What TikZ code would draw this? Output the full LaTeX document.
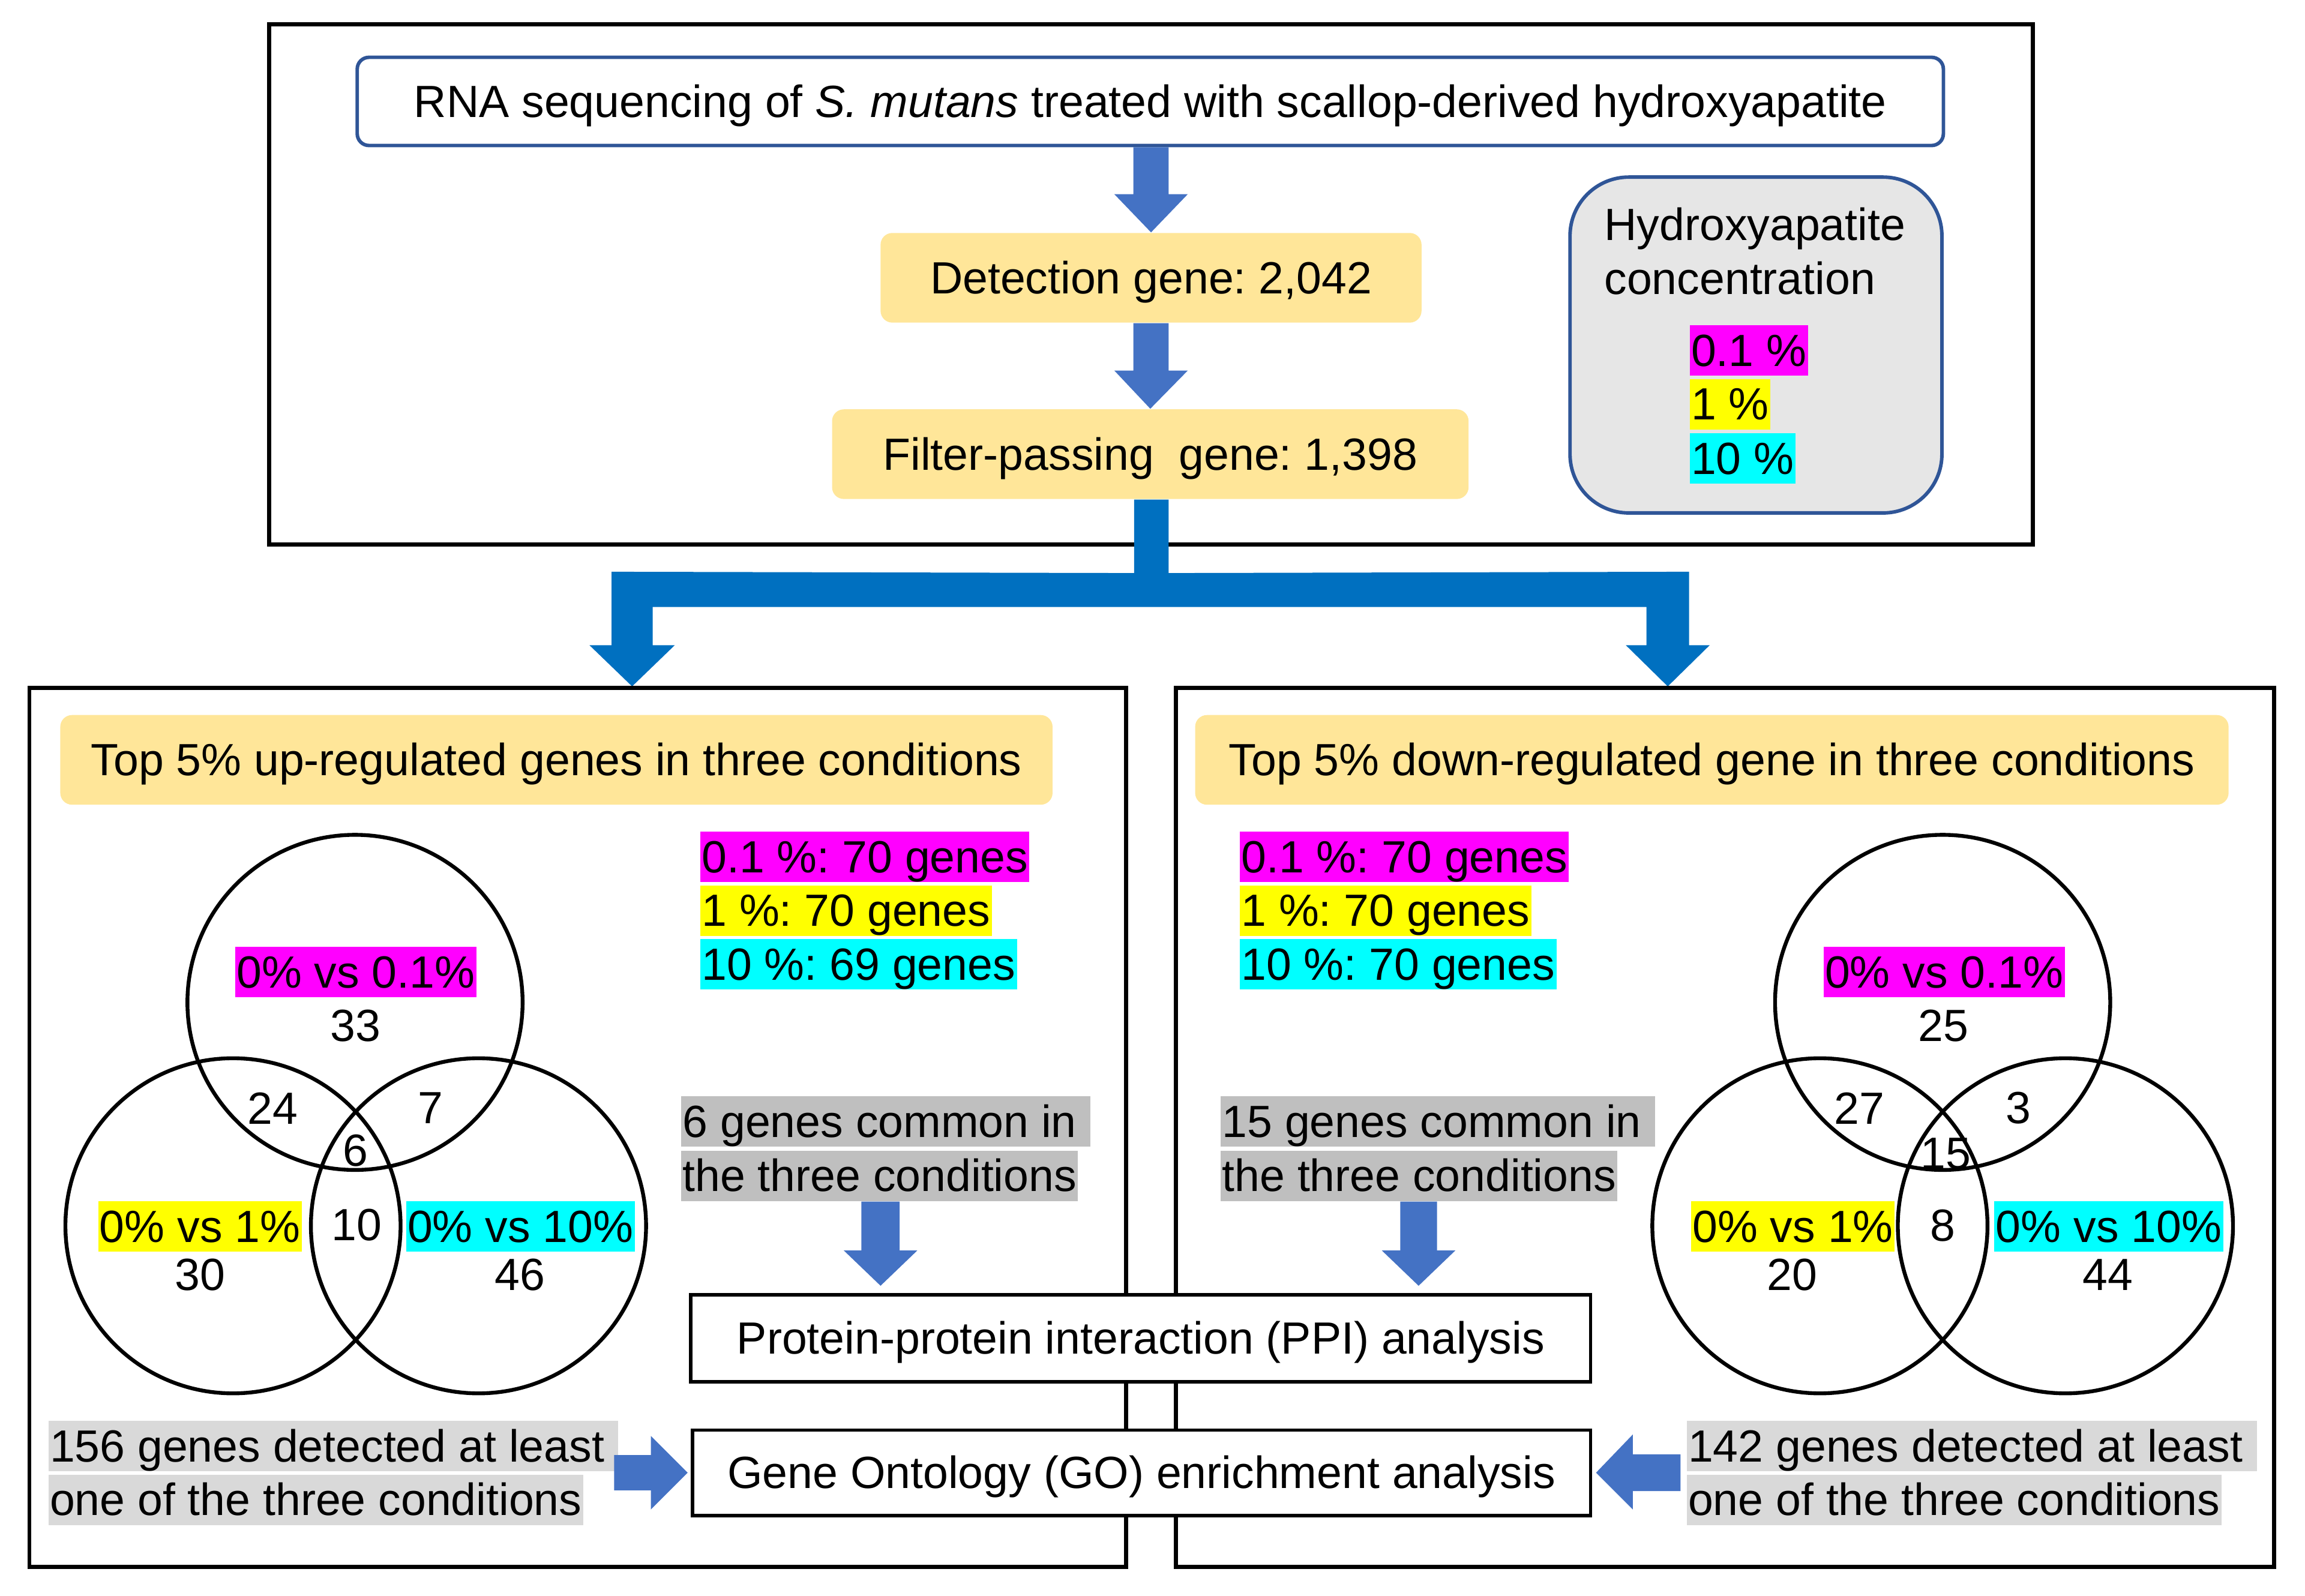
\documentclass[tikz,border=0pt]{standalone}
\usepackage{fontspec}
\setmainfont{Liberation Sans}
\usetikzlibrary{calc}
\definecolor{hdr}{HTML}{FFE699}
\definecolor{bdark}{HTML}{2F5597}
\definecolor{lgray}{HTML}{E6E6E6}
\definecolor{sblue}{HTML}{4472C4}
\definecolor{bblue}{HTML}{0070C0}
\definecolor{mag}{HTML}{FF00FF}
\definecolor{yel}{HTML}{FFFF00}
\definecolor{cya}{HTML}{00FFFF}
\definecolor{gdark}{HTML}{BFBFBF}
\definecolor{glight}{HTML}{D9D9D9}
\begin{document}
\begin{tikzpicture}[x=0.5pt,y=-0.5pt,
  font=\fontsize{15.35}{18.4}\selectfont\frenchspacing,
  tb/.style={text height=13.9pt, text depth=3.25pt},
  hl/.style={tb, inner xsep=0.5pt, inner ysep=0pt},
  mg/.style={hl, fill=mag},
  yl/.style={hl, fill=yel},
  cy/.style={hl, fill=cya},
  gd/.style={hl, fill=gdark, anchor=west},
  gl/.style={hl, fill=glight, anchor=west},
  frame/.style={draw=black, line width=1.4pt},
  hbox/.style={tb, fill=hdr, rounded corners=4pt, inner sep=0pt},
  wbox/.style={tb, draw=black, fill=white, line width=1.2pt, inner sep=0pt},
  venn/.style={draw=black, line width=1.3pt, circle, minimum size=114pt, inner sep=0pt},
  num/.style={inner sep=0pt},
  sarrow/.style={fill=sblue},
]
\useasboundingbox (0,0) rectangle (1568,1085.5);

% ---------- top frame ----------
\draw[frame] (183,16.5) rectangle (1383,370.5);
\node[tb, draw=bdark, line width=1.2pt, rounded corners=4pt, minimum width=539.5pt, minimum height=30pt, inner sep=0pt] (rna) at (782.5,69)
  {RNA sequencing of \textit{S. mutans} treated with scallop-derived hydroxyapatite};
\node[hbox, minimum width=184pt, minimum height=30.5pt] (det) at (783,189) {Detection gene: 2,042};
\node[hbox, minimum width=216.5pt, minimum height=30.5pt] (filt) at (782.5,309) {Filter-passing\ \ gene: 1,398};

% legend box
\node[draw=bdark, fill=lgray, line width=1.2pt, rounded corners=20pt, minimum width=126.5pt, minimum height=114.25pt, inner sep=0pt] (leg) at (1194.5,234.75) {};
\node[num, tb, anchor=west] (legt1) at (1091,153) {Hydroxyapatite};
\node[num, tb, anchor=west] (legt2) at (1091,189.5) {concentration};
\node[mg, anchor=west] (legm) at (1149,238.5) {0.1 \%};
\node[yl, anchor=west] (legy) at (1149,275) {1 \%};
\node[cy, anchor=west] (legc) at (1149,312) {10 \%};

% small arrows in top frame
\fill[sarrow] ($(rna.south)+(-11.5,0)$) -- ($(det.north)+(-12,-26)$) -- ($(det.north)+(-25,-26)$) -- (det.north)
  -- ($(det.north)+(25,-26)$) -- ($(det.north)+(12,-26)$) -- ($(rna.south)+(12.5,0)$) -- cycle;
\fill[sarrow] ($(det.south)+(-12,0)$) -- ($(filt.north)+(-11.5,-26)$) -- ($(filt.north)+(-24.5,-26)$) -- (filt.north)
  -- ($(filt.north)+(25.5,-26)$) -- ($(filt.north)+(12.5,-26)$) -- ($(det.south)+(12,0)$) -- cycle;

% ---------- big branching connector ----------
\coordinate (tipL) at (430,467);
\coordinate (tipR) at (1134.5,467);
\fill[bblue] ($(filt.south)+(-11,0)$) -- ($(filt.south)+(-11,50)$) -- ($(tipL)+(-14,-78)$) -- ($(tipL)+(-14,-28)$)
  -- ($(tipL)+(-29,-28)$) -- (tipL) -- ($(tipL)+(29,-28)$) -- ($(tipL)+(14,-28)$) -- ($(tipL)+(14,-54)$)
  -- ($(tipR)+(-14.5,-54)$) -- ($(tipR)+(-14.5,-28)$) -- ($(tipR)+(-28.5,-28)$) -- (tipR)
  -- ($(tipR)+(28.5,-28)$) -- ($(tipR)+(14.5,-28)$) -- ($(tipR)+(14.5,-78)$) -- ($(filt.south)+(12.5,50)$)
  -- ($(filt.south)+(12.5,0)$) -- cycle;

% ---------- bottom frames ----------
\draw[frame] (20,468) rectangle (766,1066);
\draw[frame] (800,468) rectangle (1547,1066);

\node[hbox, minimum width=337.5pt, minimum height=30.5pt] (uph) at (378.5,517) {Top 5\% up-regulated genes in three conditions};
\node[hbox, minimum width=351.5pt, minimum height=30.5pt] (dnh) at (1164.5,517) {Top 5\% down-regulated gene in three conditions};

% left lists
\node[mg, anchor=west] (ul1) at (476,583) {0.1 \%: 70 genes};
\node[yl, anchor=west] (ul2) at (476,619.5) {1 \%: 70 genes};
\node[cy, anchor=west] (ul3) at (476,656) {10 \%: 69 genes};
% right lists
\node[mg, anchor=west] (dl1) at (843,583) {0.1 \%: 70 genes};
\node[yl, anchor=west] (dl2) at (843,619.5) {1 \%: 70 genes};
\node[cy, anchor=west] (dl3) at (843,656) {10 \%: 70 genes};

% left Venn
\node[venn] (uA) at (241.5,682) {};
\node[venn] (uB) at (158.5,834) {};
\node[venn] (uC) at (325.5,834) {};
\node[mg] (uAl) at (242,661.5) {0\% vs 0.1\%};
\node[num] at (242,698) {33};
\node[num] at (185.5,754) {24};
\node[num] at (293,754) {7};
\node[num] at (241.8,783) {6};
\node[yl] (uBl) at (136,834.5) {0\% vs 1\%};
\node[num] at (136,867.5) {30};
\node[num] at (242.5,833.5) {10};
\node[cy] (uCl) at (354,834.5) {0\% vs 10\%};
\node[num] at (353.6,867.5) {46};

% right Venn
\node[venn] (dA) at (1321.5,682) {};
\node[venn] (dB) at (1238,834) {};
\node[venn] (dC) at (1405,834) {};
\node[mg] (dAl) at (1322.5,661.5) {0\% vs 0.1\%};
\node[num] at (1322,698) {25};
\node[num] at (1265,754) {27};
\node[num] at (1373,754) {3};
\node[num] at (1323.5,785) {15};
\node[yl] (dBl) at (1219.6,834.5) {0\% vs 1\%};
\node[num] at (1219,867.5) {20};
\node[num] at (1321.6,834) {8};
\node[cy] (dCl) at (1434.5,834.5) {0\% vs 10\%};
\node[num] at (1433.7,867.5) {44};

% common genes notes
\node[gd] (uc1) at (463,763) {6 genes common in\ \mbox{}};
\node[gd] (uc2) at (463,800) {the three conditions};
\node[gd] (dc1) at (830,763) {15 genes common in\ \mbox{}};
\node[gd] (dc2) at (830,800) {the three conditions};

% analysis boxes
\node[wbox, minimum width=306pt, minimum height=29.5pt] (ppi) at (776,910.5) {Protein-protein interaction (PPI) analysis};
\node[wbox, minimum width=305.5pt, minimum height=29pt] (go) at (776.5,1002) {Gene Ontology (GO) enrichment analysis};

% detected notes
\node[gl] (ud1) at (32.5,984) {156 genes detected at least\ \mbox{}};
\node[gl] (ud2) at (32.5,1020.5) {one of the three conditions};
\node[gl] (dd1) at (1147,984) {142 genes detected at least\ \mbox{}};
\node[gl] (dd2) at (1147,1020.5) {one of the three conditions};

% down arrows to PPI
\coordinate (pL) at ($(ppi.north)+(-177,-5)$);
\coordinate (pR) at ($(ppi.north)+(189,-5)$);
\fill[sarrow] ($(uc2.south -| pL)+(-13,0)$) -- ($(pL)+(-13,-24)$) -- ($(pL)+(-25,-24)$) -- (pL)
  -- ($(pL)+(25,-24)$) -- ($(pL)+(13,-24)$) -- ($(uc2.south -| pL)+(13,0)$) -- cycle;
\fill[sarrow] ($(dc2.south -| pR)+(-12.5,0)$) -- ($(pR)+(-12.5,-24)$) -- ($(pR)+(-25,-24)$) -- (pR)
  -- ($(pR)+(25,-24)$) -- ($(pR)+(12.5,-24)$) -- ($(dc2.south -| pR)+(12.5,0)$) -- cycle;

% horizontal arrows to GO
\coordinate (gL) at ($(go.west)+(-2,0)$);
\coordinate (gR) at ($(go.east)+(2.5,0)$);
\fill[sarrow] ($(gL)+(-50,-12)$) -- ($(gL)+(-25,-12)$) -- ($(gL)+(-25,-25)$) -- (gL)
  -- ($(gL)+(-25,25)$) -- ($(gL)+(-25,12)$) -- ($(gL)+(-50,12)$) -- cycle;
\fill[sarrow] ($(gR)+(57.5,-12.5)$) -- ($(gR)+(25,-12.5)$) -- ($(gR)+(25,-26)$) -- (gR)
  -- ($(gR)+(25,25)$) -- ($(gR)+(25,12.5)$) -- ($(gR)+(57.5,12.5)$) -- cycle;
\end{tikzpicture}
\end{document}
